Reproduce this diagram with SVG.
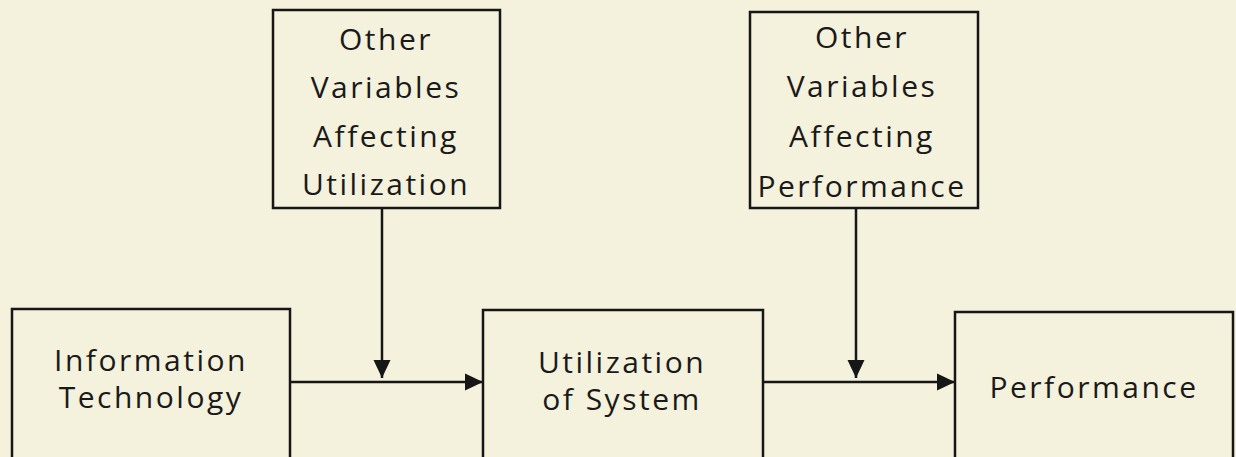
<svg xmlns="http://www.w3.org/2000/svg" width="1236" height="457" viewBox="0 0 1236 457">
<style>
.box{fill:none;stroke:#161616;stroke-width:2.5}
.lbl{font-family:"Open Sans","Noto Sans",sans-serif;font-size:30px;font-weight:500;fill:#1a1a1a;text-anchor:middle;letter-spacing:2.5px}
.con{stroke:#161616;stroke-width:2.5;fill:none}
</style>
<defs>
<marker id="ah" markerUnits="userSpaceOnUse" markerWidth="20" markerHeight="20" viewBox="0 0 20 20" refX="18" refY="10" orient="auto">
<path d="M0,1.5 L18,10 L0,18.5 Z" fill="#161616"/>
</marker>
</defs>
<rect width="1236" height="457" fill="#f4f1dc"/>
<g id="connectors">
<line class="con" x1="290" y1="382" x2="483" y2="382" marker-end="url(#ah)"/>
<line class="con" x1="382" y1="208" x2="382" y2="378" marker-end="url(#ah)"/>
<line class="con" x1="763" y1="382" x2="955" y2="382" marker-end="url(#ah)"/>
<line class="con" x1="856" y1="208" x2="856" y2="378" marker-end="url(#ah)"/>
</g>
<g id="info-tech">
<rect class="box" x="12" y="309" width="278" height="170"/>
<text class="lbl" x="151" y="371">Information</text>
<text class="lbl" x="151" y="408">Technology</text>
</g>
<g id="utilization">
<rect class="box" x="483" y="310" width="280" height="170"/>
<text class="lbl" x="622" y="373">Utilization</text>
<text class="lbl" x="622" y="410">of System</text>
</g>
<g id="performance">
<rect class="box" x="955" y="312" width="278" height="170"/>
<text class="lbl" x="1094" y="398">Performance</text>
</g>
<g id="other-util">
<rect class="box" x="273" y="10" width="227" height="198"/>
<text class="lbl" x="386" y="50">Other</text>
<text class="lbl" x="386" y="98">Variables</text>
<text class="lbl" x="386" y="147">Affecting</text>
<text class="lbl" x="386" y="195">Utilization</text>
</g>
<g id="other-perf">
<rect class="box" x="750" y="12" width="228" height="196"/>
<text class="lbl" x="862" y="48">Other</text>
<text class="lbl" x="862" y="97">Variables</text>
<text class="lbl" x="862" y="147">Affecting</text>
<text class="lbl" x="862" y="197">Performance</text>
</g>
</svg>
